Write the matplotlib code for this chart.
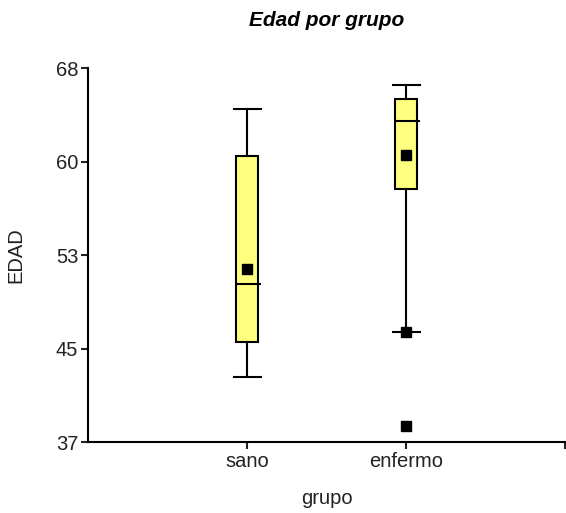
import matplotlib

matplotlib.use("Agg")
import matplotlib.pyplot as plt

# Values
groups = ["sano", "enfermo"]
whisker_low = [42.4, 46.1]
q1 = [45.3, 58.0]
medians = [50.1, 63.6]
q3 = [60.7, 65.4]
whisker_high = [64.6, 66.6]
means = [51.3, 60.8]
outliers = [[], [46.1, 38.3]]

y_ticks = [37, 44.75, 52.5, 60.25, 68]
y_tick_labels = ["37", "45", "53", "60", "68"]

plt.rcParams["font.family"] = ["Liberation Sans", "DejaVu Sans"]

fig = plt.figure(figsize=(5.66, 5.13), dpi=100)
ax = fig.add_axes([0.1555, 0.1384, 0.843, 0.729])

positions = [1, 2]
stats = []
for i, name in enumerate(groups):
    stats.append(
        {
            "label": name,
            "whislo": whisker_low[i],
            "q1": q1[i],
            "med": medians[i],
            "q3": q3[i],
            "whishi": whisker_high[i],
            "mean": means[i],
            "fliers": outliers[i],
        }
    )

ax.bxp(
    stats,
    positions=positions,
    widths=0.142,
    patch_artist=True,
    showmeans=True,
    boxprops=dict(facecolor="#ffff80", edgecolor="black", linewidth=1.5),
    whiskerprops=dict(color="black", linewidth=1.5),
    capprops=dict(color="black", linewidth=1.5),
    capwidths=0.17,
    medianprops=dict(linewidth=0),
    meanprops=dict(marker="s", markerfacecolor="black", markeredgecolor="black",
                   markersize=7.5),
    flierprops=dict(marker="s", markerfacecolor="black", markeredgecolor="black",
                    markersize=7.5),
)

# median line runs a little past the right edge of the box
for pos, med in zip(positions, medians):
    ax.hlines(med, pos - 0.071, pos + 0.085, color="black", linewidth=1.5, zorder=3)

ax.set_xlim(0, 3)
ax.set_ylim(37, 68)
ax.set_xticks([1, 2, 3])
ax.set_xticklabels(groups + [""])
ax.set_yticks(y_ticks)
ax.set_yticklabels(y_tick_labels)

for side in ["top", "right"]:
    ax.spines[side].set_visible(False)
for side in ["left", "bottom"]:
    ax.spines[side].set_linewidth(1.5)
ax.tick_params(axis="both", direction="out", length=5, width=1.5, labelsize=14.5,
               pad=2, colors="#222222")

ax.set_xlabel("grupo", fontsize=14.5, labelpad=13, color="#222222")
ax.set_ylabel("EDAD", fontsize=14.5, labelpad=22, color="#222222")
ax.set_title("Edad por grupo", fontsize=15, fontweight="bold", style="italic", pad=30)

fig.savefig("out.png", dpi=100)
